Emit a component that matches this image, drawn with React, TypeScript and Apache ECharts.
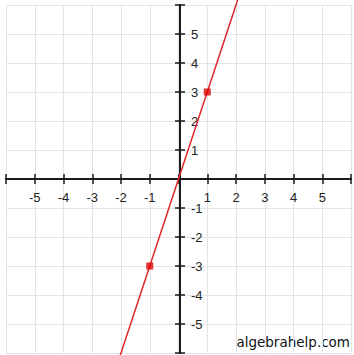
import React, { useEffect, useRef } from 'react';
import * as echarts from 'echarts';

const AXIS_MIN = -6;
const AXIS_MAX = 6;
const TICK_STEP = 1;
const tickLabels = [-5, -4, -3, -2, -1, 1, 2, 3, 4, 5];
const lineX = [-2.12, 2.12];
const lineY = [-6.36, 6.36];
const pointX = [-1, 1];
const pointY = [-3, 3];
const watermark = 'algebrahelp.com';

export default function App() {
  const ref = useRef<HTMLDivElement>(null);
  useEffect(() => {
    const chart = echarts.init(ref.current!, null, { renderer: 'svg' });
    const gl = 6, gt = 5, gw = 348, gh = 348;
    const fmt = (v: number) => (tickLabels.includes(v) ? String(v) : '');
    const base = { type: 'value', min: AXIS_MIN, max: AXIS_MAX, interval: TICK_STEP };
    const axisLine = { show: true, onZero: false, lineStyle: { color: '#1a1a1a', width: 2 } };
    const tickStyle = { color: '#1a1a1a', width: 1.5 };
    const labelStyle = { color: '#222222', fontSize: 13, fontFamily: 'Liberation Sans, Arial, sans-serif', formatter: fmt };
    const grid = { show: true, lineStyle: { color: '#e4e4e4', width: 1 } };
    chart.setOption({
      animation: false,
      backgroundColor: '#ffffff',
      grid: { left: gl, top: gt, width: gw, height: gh },
      xAxis: [
        { ...base, position: 'bottom', offset: -gh / 2, axisLine, axisTick: { show: true, inside: false, length: 5, lineStyle: tickStyle }, axisLabel: { ...labelStyle, margin: 12 }, splitLine: grid },
        { ...base, position: 'bottom', offset: -gh / 2, axisLine, axisTick: { show: true, inside: true, length: 5, lineStyle: tickStyle }, axisLabel: { show: false }, splitLine: { show: false } },
      ],
      yAxis: [
        { ...base, position: 'left', offset: -gw / 2, axisLine, axisTick: { show: true, inside: false, length: 5, lineStyle: tickStyle }, axisLabel: { ...labelStyle, inside: true, margin: 11 }, splitLine: grid },
        { ...base, position: 'left', offset: -gw / 2, axisLine, axisTick: { show: true, inside: true, length: 5, lineStyle: tickStyle }, axisLabel: { show: false }, splitLine: { show: false } },
      ],
      series: [
        {
          type: 'line',
          xAxisIndex: 0,
          yAxisIndex: 0,
          data: lineX.map((x, i) => [x, lineY[i]]),
          showSymbol: false,
          clip: false,
          lineStyle: { color: '#e0262a', width: 1.5 },
          z: 3,
        },
        {
          type: 'scatter',
          xAxisIndex: 0,
          yAxisIndex: 0,
          data: pointX.map((x, i) => [x, pointY[i]]),
          symbol: 'rect',
          symbolSize: 7,
          itemStyle: { color: '#e00000' },
          z: 4,
        },
      ],
      graphic: [
        {
          type: 'text',
          right: 4,
          bottom: 6,
          style: { text: watermark, fill: '#111111', font: '13.5px "DejaVu Sans", Verdana, sans-serif' },
        },
      ],
    });
    return () => chart.dispose();
  }, []);
  return <div ref={ref} style={{ position: 'absolute', left: 0, top: 0, width: 354, height: 355 }} />;
}
